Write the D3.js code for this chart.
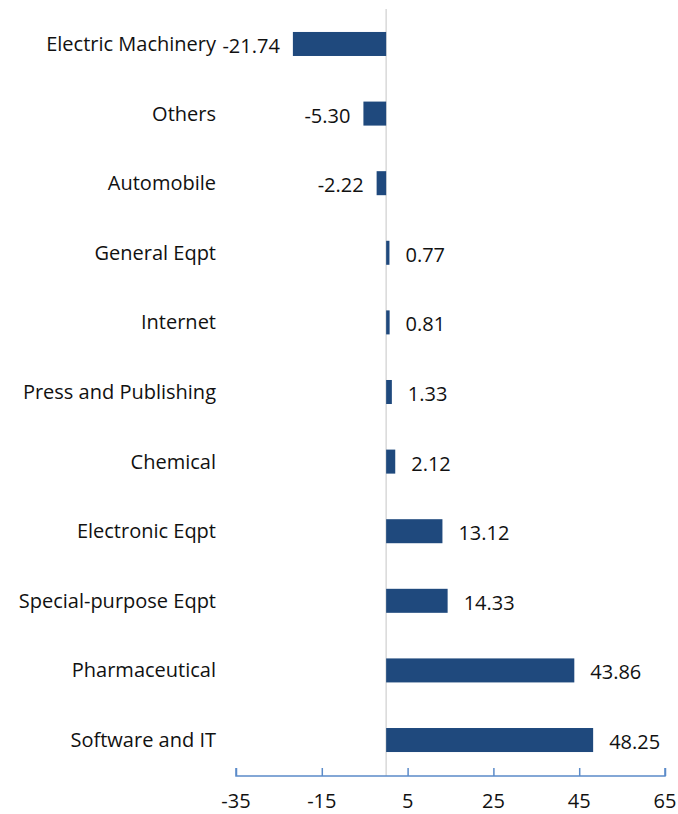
<!DOCTYPE html>
<html>
<head>
<meta charset="utf-8">
<script src="https://cdn.jsdelivr.net/npm/d3@7"></script>
<style>
  body { margin: 0; background: #fff; }
  text { font-family: "Open Sans", "Noto Sans", sans-serif; fill: #111; }
</style>
</head>
<body>
<div id="chart"></div>
<script>
const width = 678;
const height = 814;

// chart data, top to bottom
const categories = ["Electric Machinery", "Others", "Automobile", "General Eqpt", "Internet",
  "Press and Publishing", "Chemical", "Electronic Eqpt", "Special-purpose Eqpt",
  "Pharmaceutical", "Software and IT"];
const values = [-21.74, -5.30, -2.22, 0.77, 0.81, 1.33, 2.12, 13.12, 14.33, 43.86, 48.25];
const tickValues = [-35, -15, 5, 25, 45, 65];

const svg = d3.select("#chart")
    .append("svg")
    .attr("width", width)
    .attr("height", height);

const x = d3.scaleLinear().domain([-35, 65]).range([236, 665]);
const y = d3.scaleBand().domain(categories).range([9, 775]).paddingInner(0.655).paddingOuter(0.33);

const axisY = 776;

// zero line
svg.append("line")
    .attr("x1", x(0)).attr("x2", x(0))
    .attr("y1", 9).attr("y2", axisY)
    .attr("stroke", "#d9d9d9")
    .attr("stroke-width", 1.5);

// bars
svg.selectAll("rect.bar")
    .data(values)
    .enter()
    .append("rect")
    .attr("class", "bar")
    .attr("x", d => x(Math.min(0, d)))
    .attr("y", (d, i) => y(categories[i]))
    .attr("width", d => Math.abs(x(d) - x(0)))
    .attr("height", y.bandwidth())
    .attr("fill", "#1f497d");

// value labels
svg.selectAll("text.val")
    .data(values)
    .enter()
    .append("text")
    .attr("class", "val")
    .attr("x", d => d < 0 ? x(d) - 13 : x(d) + 16)
    .attr("y", (d, i) => y(categories[i]) + y.bandwidth() / 2 + 2)
    .attr("dy", "0.35em")
    .attr("text-anchor", d => d < 0 ? "end" : "start")
    .attr("font-size", 20)
    .text(d => d.toFixed(2));

// category labels
svg.selectAll("text.cat")
    .data(categories)
    .enter()
    .append("text")
    .attr("class", "cat")
    .attr("x", 216)
    .attr("y", d => y(d) + y.bandwidth() / 2)
    .attr("dy", "0.35em")
    .attr("text-anchor", "end")
    .attr("font-size", 20)
    .text(d => d);

// x axis with ticks pointing up
const xAxis = svg.append("g")
    .attr("transform", `translate(0,${axisY})`)
    .call(d3.axisTop(x).tickValues(tickValues).tickSize(8).tickFormat(""));
xAxis.selectAll("path, line").attr("stroke", "#5b8bc9").attr("stroke-width", 1.5);
xAxis.select("path").attr("d", `M${x(-35)},-8V0H${x(65)}V-8`);

svg.selectAll("text.tick")
    .data(tickValues)
    .enter()
    .append("text")
    .attr("class", "tick")
    .attr("x", d => x(d))
    .attr("y", 808)
    .attr("text-anchor", "middle")
    .attr("font-size", 20)
    .text(d => d);
</script>
</body>
</html>
